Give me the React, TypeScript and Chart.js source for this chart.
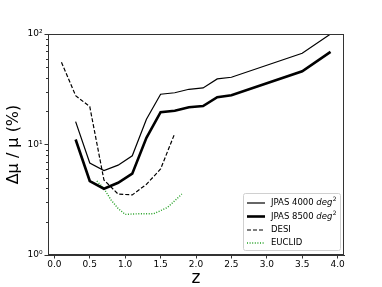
import React, { useEffect, useRef } from "react";
import { Chart, registerables } from "chart.js";

Chart.register(...registerables);

const Z_JPAS = [0.3, 0.5, 0.7, 0.9, 1.1, 1.3, 1.5, 1.7, 1.9, 2.1, 2.3, 2.5, 3.5, 3.9];
const JPAS_4000 = [16.1, 6.8, 5.8, 6.5, 7.9, 16.9, 28.5, 29.4, 31.6, 32.5, 39.2, 40.6, 66.9, 100];
const JPAS_8500 = [11.1, 4.67, 3.98, 4.5, 5.44, 11.5, 19.6, 20.2, 21.7, 22.3, 26.8, 27.9, 46, 69];
const Z_DESI = [0.1, 0.3, 0.5, 0.7, 0.9, 1.1, 1.3, 1.5, 1.7];
const DESI = [55.5, 27.7, 22, 4.77, 3.56, 3.5, 4.36, 6.0, 12.6];
const Z_EUCLID = [0.6, 0.7, 0.8, 0.9, 1.0, 1.1, 1.2, 1.3, 1.4, 1.5, 1.6, 1.7, 1.8];
const EUCLID = [4.67, 4.0, 3.15, 2.64, 2.33, 2.35, 2.36, 2.36, 2.36, 2.52, 2.7, 3.1, 3.56];

const X_TICKS = [0, 0.5, 1, 1.5, 2, 2.5, 3, 3.5, 4];
const Y_TICKS = [1, 10, 100];
const Y_TICK_LABELS = ["10⁰", "10¹", "10²"];
const Y_MINOR = [2, 3, 4, 5, 6, 7, 8, 9, 20, 30, 40, 50, 60, 70, 80, 90];

const GREEN = "#22a022";

const LEGEND = [
  { label: "JPAS 4000 ", unit: "deg", sup: "2", color: "#000", width: 1.2, dash: [] as number[] },
  { label: "JPAS 8500 ", unit: "deg", sup: "2", color: "#000", width: 2.6, dash: [] as number[] },
  { label: "DESI", unit: "", sup: "", color: "#000", width: 1.2, dash: [4, 2] },
  { label: "EUCLID", unit: "", sup: "", color: GREEN, width: 1.4, dash: [1, 1.6] },
];

const FONT = "'DejaVu Sans', sans-serif";

const pts = (xs: number[], ys: number[]) => xs.map((x, i) => ({ x, y: ys[i] }));

const framePlugin = {
  id: "frame",
  afterDraw(chart: any) {
    const { ctx, chartArea } = chart;
    const ys = chart.scales.y;
    ctx.save();
    ctx.strokeStyle = "#333";
    ctx.lineWidth = 1;
    ctx.strokeRect(chartArea.left + 0.5, chartArea.top + 0.5, chartArea.right - chartArea.left - 1, chartArea.bottom - chartArea.top - 1);
    ctx.beginPath();
    Y_MINOR.forEach((v) => {
      const py = Math.round(ys.getPixelForValue(v)) + 0.5;
      ctx.moveTo(chartArea.left, py);
      ctx.lineTo(chartArea.left - 2, py);
    });
    ctx.stroke();

    // legend
    const bx = 243, by = 193, bw = 97, bh = 57;
    ctx.fillStyle = "rgba(255,255,255,0.9)";
    ctx.strokeStyle = "#d0d0d0";
    ctx.lineWidth = 1;
    ctx.beginPath();
    ctx.roundRect(bx + 0.5, by + 0.5, bw, bh, 2);
    ctx.fill();
    ctx.stroke();
    const rows = [203, 216.5, 230, 243];
    LEGEND.forEach((e, i) => {
      const y = rows[i];
      ctx.strokeStyle = e.color;
      ctx.lineWidth = e.width;
      ctx.setLineDash(e.dash);
      ctx.beginPath();
      ctx.moveTo(247, y);
      ctx.lineTo(265, y);
      ctx.stroke();
      ctx.setLineDash([]);
      ctx.fillStyle = "#000";
      ctx.textBaseline = "middle";
      ctx.textAlign = "left";
      ctx.font = `8.5px ${FONT}`;
      let x = 271;
      ctx.fillText(e.label, x, y);
      x += ctx.measureText(e.label).width;
      if (e.unit) {
        ctx.font = `italic 8.5px ${FONT}`;
        ctx.fillText(e.unit, x, y);
        x += ctx.measureText(e.unit).width;
        ctx.font = `6px ${FONT}`;
        ctx.fillText(e.sup, x + 0.5, y - 3.5);
      }
    });
    ctx.restore();
  },
};

export default function App() {
  const ref = useRef<HTMLCanvasElement>(null);
  useEffect(() => {
    if (!ref.current) return;
    const chart = new Chart(ref.current, {
      type: "line",
      data: {
        datasets: [
          { label: "JPAS 4000", data: pts(Z_JPAS, JPAS_4000), borderColor: "#000", borderWidth: 1.2, pointRadius: 0, tension: 0 },
          { label: "JPAS 8500", data: pts(Z_JPAS, JPAS_8500), borderColor: "#000", borderWidth: 2.6, pointRadius: 0, tension: 0 },
          { label: "DESI", data: pts(Z_DESI, DESI), borderColor: "#000", borderWidth: 1.2, borderDash: [4, 2], pointRadius: 0, tension: 0 },
          { label: "EUCLID", data: pts(Z_EUCLID, EUCLID), borderColor: GREEN, borderWidth: 1.4, borderDash: [1, 1.6], pointRadius: 0, tension: 0 },
        ],
      },
      options: {
        animation: false,
        responsive: false,
        maintainAspectRatio: false,
        layout: { padding: { top: 34, right: 38, left: 0, bottom: 0 } },
        plugins: { legend: { display: false }, tooltip: { enabled: false } },
        scales: {
          x: {
            type: "linear",
            min: -0.09,
            max: 4.09,
            afterBuildTicks: (s: any) => { s.ticks = X_TICKS.map((v) => ({ value: v })); },
            afterFit: (s: any) => { s.height = 32; },
            grid: { drawOnChartArea: false, drawTicks: true, tickLength: 3.5, tickColor: "#333", color: "#333" },
            border: { display: true, color: "#333" },
            ticks: {
              maxRotation: 0,
              autoSkip: false,
              padding: 1,
              color: "#000",
              font: { family: FONT, size: 9 },
              callback: (v: any) => Number(v).toFixed(1),
            },
            title: { display: true, text: "z", color: "#000", font: { family: FONT, size: 17 }, padding: { top: -2, bottom: -2 } },
          },
          y: {
            type: "logarithmic",
            min: 1,
            max: 100,
            afterBuildTicks: (s: any) => { s.ticks = Y_TICKS.map((v) => ({ value: v, major: true })); },
            afterFit: (s: any) => { s.width = 48; },
            grid: { drawOnChartArea: false, drawTicks: true, tickLength: 3.5, tickColor: "#333", color: "#333" },
            border: { display: true, color: "#333" },
            ticks: {
              autoSkip: false,
              padding: 2,
              color: "#000",
              font: { family: FONT, size: 9 },
              callback: (v: any) => {
                const i = Y_TICKS.indexOf(Number(v));
                return i >= 0 ? Y_TICK_LABELS[i] : "";
              },
            },
            title: { display: true, text: "Δμ / μ (%)", color: "#000", font: { family: FONT, size: 16 }, padding: { top: 4, bottom: 0 } },
          },
        },
      },
      plugins: [framePlugin],
    } as any);
    return () => chart.destroy();
  }, []);
  return (
    <div style={{ position: "fixed", left: 0, top: 0, width: 382, height: 287, background: "#fff" }}>
      <canvas ref={ref} width={382} height={287} style={{ width: 382, height: 287, display: "block" }} />
    </div>
  );
}
